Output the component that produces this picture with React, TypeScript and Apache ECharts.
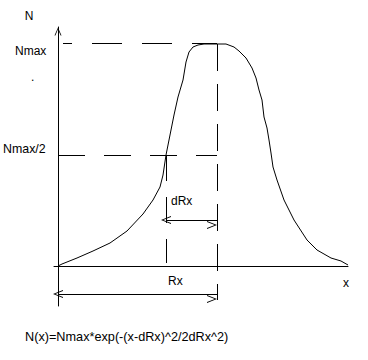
import React, { useEffect, useRef } from "react";
import * as echarts from "echarts";

// Curve (x from origin, height above x axis)
const curveX = [0, 4, 19, 35, 52, 69, 85, 95, 102, 105, 108, 112, 116, 120, 125, 128, 131, 135, 140, 146, 168, 176, 181, 188, 194, 198, 201, 204, 206, 209, 211, 213, 215, 219, 226, 236, 249, 259, 273, 283, 290];
const curveY = [0, 2, 8, 15, 23, 35, 52, 66, 79, 91, 111, 131, 151, 169, 186, 204, 214, 219, 221, 222, 222, 219, 215, 208, 198, 188, 176, 166, 149, 138, 126, 113, 99, 86, 66, 46, 26, 16, 8, 5, 1];

const nMax = 222;
const nHalf = 111;
const rxPos = 159;
const peakLeft = 108;
const dRxArrowLevel = 46;
const rxArrowLevel = -28;
const nMaxLineStart = 5;
const rxLineBottom = -34;
const dRxLineBottom = 3;

const xRange = [-4, 290];
const yRange = [-40, 239];

const labelTexts = ["N", "Nmax", ".", "Nmax/2", "dRx", "Rx", "x"];
const formulaText = "N(x)=Nmax*exp(-(x-dRx)^2/2dRx^2)";

const FONT = "'Liberation Sans', Arial, sans-serif";
const ARROW = "path://M4,0 L8,9 L7,9 L4,2 L1,9 L0,9 Z";

export default function App() {
  const ref = useRef<HTMLDivElement>(null);
  useEffect(() => {
    document.body.style.margin = "0";
    const chart = echarts.init(ref.current!, null, { renderer: "svg" });
    const curve = curveX.map((x, i) => [x, curveY[i]]);
    const txt = (text: string, x: number, y: number, align = "left", size = 12) => ({
      type: "text",
      x,
      y,
      silent: true,
      style: { text, fill: "#000", font: `${size}px ${FONT}`, align, verticalAlign: "middle" },
    });
    chart.setOption({
      animation: false,
      backgroundColor: "#fff",
      grid: { left: 54, right: 20, top: 27, bottom: 54 },
      xAxis: {
        type: "value",
        min: xRange[0],
        max: xRange[1],
        axisLine: { show: true, onZero: true, lineStyle: { color: "#000", width: 1 } },
        axisTick: { show: false },
        axisLabel: { show: false },
        splitLine: { show: false },
      },
      yAxis: {
        type: "value",
        min: yRange[0],
        max: yRange[1],
        axisLine: {
          show: true,
          onZero: true,
          symbol: ["none", ARROW],
          symbolSize: [7, 9],
          symbolOffset: [0, -4.5],
          lineStyle: { color: "#000", width: 1 },
        },
        axisTick: { show: false },
        axisLabel: { show: false },
        splitLine: { show: false },
      },
      series: [
        {
          type: "line",
          data: curve,
          showSymbol: false,
          silent: true,
          lineStyle: { color: "#000", width: 1 },
          markLine: {
            silent: true,
            symbol: "none",
            label: { show: false },
            lineStyle: { color: "#000", width: 1 },
            data: [
              [
                { coord: [nMaxLineStart, nMax + 1], lineStyle: { color: "#000", width: 1, type: [30, 20], dashOffset: 21 } },
                { coord: [rxPos, nMax + 1] },
              ],
              [
                { coord: [0, nHalf], lineStyle: { color: "#000", width: 1, type: [27, 19] } },
                { coord: [rxPos, nHalf] },
              ],
              [
                { coord: [rxPos, nMax], lineStyle: { color: "#000", width: 1, type: [27, 13] } },
                { coord: [rxPos, rxLineBottom] },
              ],
              [
                { coord: [peakLeft, nHalf], lineStyle: { color: "#000", width: 1, type: [26, 16] } },
                { coord: [peakLeft, dRxLineBottom] },
              ],
            ],
          },
        },
        {
          type: "line",
          data: [],
          showSymbol: false,
          silent: true,
          markLine: {
            silent: true,
            symbol: [ARROW, ARROW],
            symbolSize: [8, 10],
            symbolOffset: [0, 5],
            label: { show: false },
            lineStyle: { color: "#000", width: 1, type: "solid" },
            data: [
              [{ coord: [peakLeft, dRxArrowLevel] }, { coord: [rxPos, dRxArrowLevel] }],
              [{ coord: [0, rxArrowLevel] }, { coord: [rxPos, rxArrowLevel] }],
            ],
          },
        },
      ],
      graphic: [
        txt(labelTexts[0], 29, 16, "center"),
        txt(labelTexts[1], 15, 51),
        txt(labelTexts[2], 31, 77),
        txt(labelTexts[3], 3, 149, "left", 12.4),
        txt(labelTexts[4], 171, 201),
        txt(labelTexts[5], 168, 281),
        txt(labelTexts[6], 346, 283, "center"),
        txt(formulaText, 25, 337, "left", 12.7),
      ],
    });
    return () => chart.dispose();
  }, []);
  return <div ref={ref} style={{ width: 368, height: 360 }} />;
}
